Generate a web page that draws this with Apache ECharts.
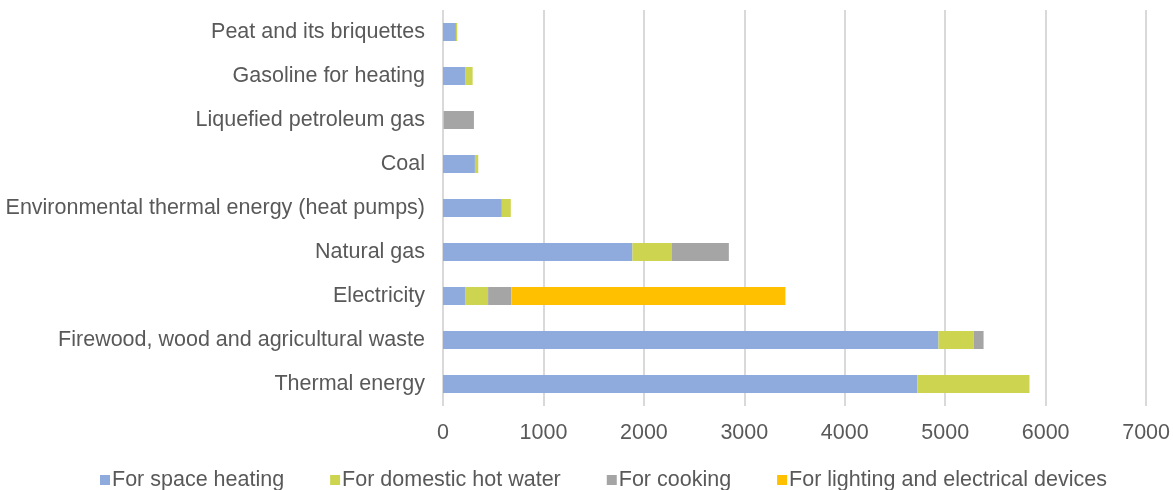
<!DOCTYPE html>
<html><head><meta charset="utf-8">
<script src="https://cdn.jsdelivr.net/npm/echarts@6/dist/echarts.min.js"></script>
<style>html,body{margin:0;padding:0;background:#fff}#c{width:1173px;height:490px}</style>
</head><body><div id="c"></div>
<script>
const categories = ["Thermal energy","Firewood, wood and agricultural waste","Electricity","Natural gas","Environmental thermal energy (heat pumps)","Coal","Liquefied petroleum gas","Gasoline for heating","Peat and its briquettes"];
const spaceHeating = [4724, 4933, 220, 1886, 586, 318, 0, 225, 129];
const hotWater = [1115, 350, 229, 394, 89, 33, 10, 70, 13];
const cooking = [0, 99, 232, 566, 0, 0, 298, 0, 0];
const lighting = [0, 0, 2728, 0, 0, 0, 0, 0, 0];
const xTicks = [0, 1000, 2000, 3000, 4000, 5000, 6000, 7000];

const chart = echarts.init(document.getElementById('c'));
const font = 'Liberation Sans, Arial, sans-serif';
function s(name, data, color){
  return {name, type:'bar', stack:'a', data, barWidth:18, itemStyle:{color}, emphasis:{disabled:true}};
}
chart.setOption({
  animation:false,
  grid:{left:443, right:25, top:10, bottom:84, containLabel:false},
  legend:{top:464, left:95, itemWidth:10, itemHeight:10, itemGap:46, icon:'rect',
    textStyle:{fontFamily:font, fontSize:21.5, color:'#595959', padding:[0,0,0,-3]}},
  xAxis:{type:'value', min:xTicks[0], max:xTicks[xTicks.length-1], interval:1000,
    axisLine:{show:false}, axisTick:{show:false},
    axisLabel:{fontFamily:font, fontSize:21.5, color:'#595959', margin:16, formatter:v=>String(v)},
    splitLine:{lineStyle:{color:'#D9D9D9', width:2}}},
  yAxis:{type:'category', data:categories,
    axisLine:{show:false}, axisTick:{show:false},
    axisLabel:{fontFamily:font, fontSize:21.5, color:'#595959', margin:18}},
  series:[
    s('For space heating', spaceHeating, '#8FAADC'),
    s('For domestic hot water', hotWater, '#CDD450'),
    s('For cooking', cooking, '#A5A5A5'),
    s('For lighting and electrical devices', lighting, '#FFC000')
  ]
});
</script></body></html>
